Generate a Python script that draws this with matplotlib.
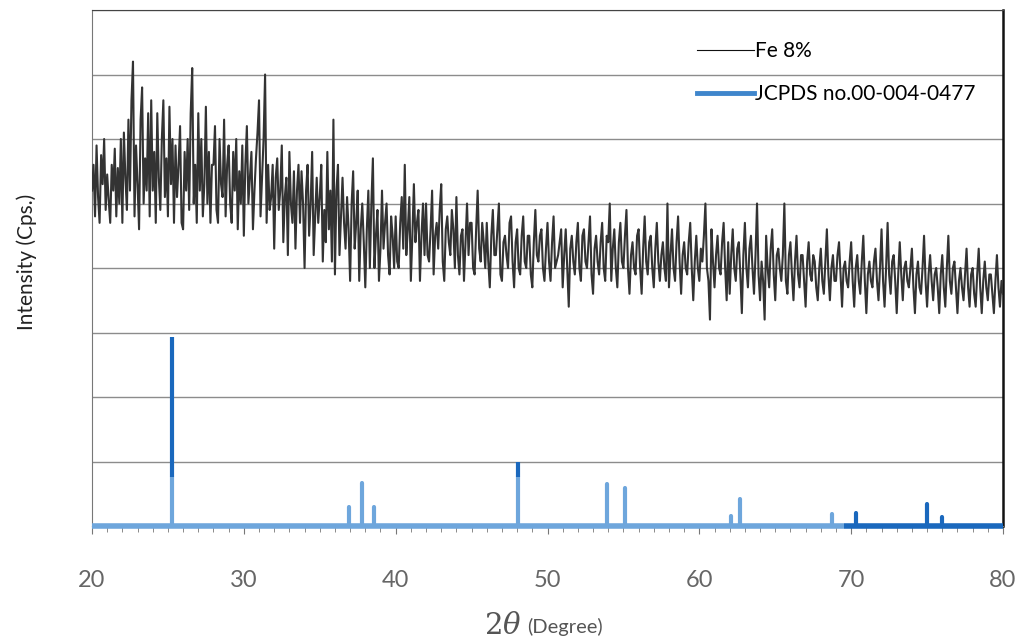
import numpy as np
import matplotlib
matplotlib.use('Agg')
import matplotlib.pyplot as plt
from matplotlib.lines import Line2D

# measured pattern, 2theta from 20 to 80 in 0.1 degree steps (intensity, arb. cps)
two_theta = np.arange(0, 601) * 0.1 + 20
intensity = [
    520, 560, 480, 590, 510, 470, 575, 530, 600, 490, 545, 505, 470, 560, 520, 585, 480, 555, 500, 600,
    470, 610, 540, 490, 630, 520, 660, 720, 480, 590, 530, 460, 630, 680, 500, 570, 520, 640, 480, 660,
    520, 580, 470, 640, 540, 490, 600, 660, 510, 570, 480, 650, 530, 600, 470, 590, 510, 560, 620, 470,
    460, 580, 520, 600, 490, 640, 710, 500, 560, 470, 640, 520, 600, 480, 530, 650, 500, 580, 470, 560,
    560, 620, 490, 470, 600, 530, 510, 630, 480, 560, 590, 500, 470, 580, 520, 600, 460, 550, 500, 590,
    450, 560, 620, 500, 540, 580, 460, 520, 570, 610, 660, 480, 540, 600, 700, 470, 560, 490, 510, 560,
    430, 540, 570, 490, 520, 590, 440, 510, 540, 420, 580, 500, 470, 550, 430, 520, 560, 470, 550, 500,
    400, 520, 560, 450, 500, 580, 420, 480, 540, 470, 510, 560, 410, 490, 440, 580, 460, 520, 410, 630,
    390, 520, 560, 420, 480, 540, 470, 430, 510, 460, 380, 500, 550, 430, 470, 520, 380, 460, 500, 440,
    370, 460, 520, 400, 500, 570, 400, 450, 490, 380, 430, 520, 430, 470, 500, 420, 390, 480, 450, 400,
    480, 410, 400, 470, 510, 430, 560, 420, 460, 510, 380, 450, 530, 440, 470, 490, 380, 450, 500, 420,
    500, 420, 410, 460, 520, 390, 450, 470, 430, 490, 530, 410, 380, 460, 480, 440, 420, 490, 460, 400,
    510, 420, 390, 450, 460, 380, 440, 500, 420, 470, 470, 400, 390, 460, 520, 430, 410, 470, 440, 400,
    470, 410, 370, 450, 490, 420, 420, 460, 500, 390, 380, 440, 450, 420, 400, 470, 480, 410, 370, 440,
    460, 400, 390, 450, 480, 410, 400, 450, 450, 390, 370, 440, 490, 420, 410, 450, 460, 400, 380, 430,
    470, 410, 380, 440, 480, 400, 410, 420, 440, 460, 370, 420, 460, 400, 340, 430, 450, 410, 390, 440,
    470, 400, 380, 450, 460, 410, 400, 440, 480, 390, 360, 430, 450, 410, 390, 440, 470, 400, 380, 450,
    440, 500, 380, 430, 460, 400, 370, 440, 470, 410, 400, 450, 490, 400, 360, 420, 440, 400, 390, 450,
    460, 400, 360, 430, 480, 410, 390, 440, 450, 400, 370, 430, 470, 410, 380, 420, 440, 400, 380, 500,
    370, 420, 460, 400, 380, 440, 480, 410, 360, 420, 440, 400, 390, 440, 470, 400, 350, 410, 450, 400,
    380, 430, 410, 450, 500, 400, 380, 320, 460, 410, 370, 420, 450, 400, 390, 440, 470, 400, 350, 440,
    360, 420, 460, 400, 380, 430, 440, 390, 330, 420, 470, 400, 370, 430, 450, 400, 360, 420, 500, 390,
    350, 410, 380, 320, 450, 400, 370, 430, 460, 390, 350, 420, 430, 400, 380, 420, 500, 380, 360, 420,
    440, 390, 350, 410, 450, 390, 370, 420, 420, 380, 340, 410, 440, 390, 380, 420, 410, 370, 350, 400,
    430, 380, 360, 410, 460, 390, 350, 400, 420, 380, 380, 420, 440, 390, 340, 400, 410, 380, 370, 410,
    440, 380, 340, 400, 420, 380, 360, 410, 450, 380, 330, 390, 410, 380, 370, 410, 430, 380, 350, 400,
    460, 380, 340, 400, 470, 390, 360, 410, 420, 380, 330, 390, 440, 390, 350, 400, 410, 380, 370, 400,
    430, 370, 330, 390, 410, 370, 360, 400, 450, 380, 340, 390, 420, 380, 350, 390, 400, 370, 330, 390,
    420, 370, 340, 400, 450, 380, 360, 400, 410, 370, 330, 380, 400, 370, 350, 390, 430, 370, 340, 390,
    400, 360, 340, 390, 430, 370, 330, 380, 410, 370, 350, 390, 390, 360, 330, 380, 420, 370, 340, 380,
    360,
]

# reference card peaks (anatase)
ref_pos = [25.3, 36.9, 37.8, 38.55, 48.05, 53.9, 55.1, 62.1, 62.7, 68.75, 70.3, 75.0, 76.0]
ref_int = [293, 29, 67, 29, 99, 65, 59, 16, 42, 19, 20, 34, 14]

light = '#6ea6dc'
dark = '#1a68bd'
split = 76      # scan shows darker blue above this level
dark_from = 69.5

plt.rcParams['font.family'] = ['Lato', 'DejaVu Sans']
plt.rcParams['mathtext.fontset'] = 'dejavuserif'

fig = plt.figure(figsize=(10.25, 6.44), dpi=100)
ax = fig.add_axes([92 / 1025, 1 - 526 / 644, 911 / 1025, 516 / 644])

ax.plot(two_theta, intensity, color='#333333', lw=1.5, zorder=3)

# baseline of the reference card
ax.plot([20, dark_from], [0, 0], color=light, lw=4, solid_capstyle='butt', clip_on=False, zorder=4)
ax.plot([dark_from, 80], [0, 0], color=dark, lw=4, solid_capstyle='butt', clip_on=False, zorder=4)

for p, h in zip(ref_pos, ref_int):
    if p > dark_from:
        ax.plot([p, p], [0, h], color=dark, lw=3, solid_capstyle='round', zorder=4)
    else:
        ax.plot([p, p], [0, min(h, split)], color=light, lw=3, solid_capstyle='round', zorder=4)
        if h > split:
            ax.plot([p, p], [split, h], color=dark, lw=3, solid_capstyle='butt', zorder=4)

ax.set_xlim(20, 80)
ax.set_ylim(0, 800)
ax.set_yticks(np.arange(0, 801, 100))
ax.set_yticklabels([])
ax.tick_params(axis='y', length=0)
ax.grid(axis='y', color='#8c8c8c', lw=1)
ax.set_axisbelow(True)

ax.set_xticks(np.arange(20, 81, 10))
ax.set_xticks(np.arange(20, 81, 1), minor=True)
ax.tick_params(axis='x', which='major', length=6, color='#777777', labelsize=17,
               labelcolor='#666666', pad=26)
ax.tick_params(axis='x', which='minor', length=4, color='#777777')

for s in ['left', 'bottom']:
    ax.spines[s].set_color('#777777')
ax.spines['top'].set_color('#444444')
ax.spines['right'].set_color('#111111')
ax.spines['right'].set_linewidth(1.8)

fig.text(27 / 1025, 1 - 262 / 644, 'Intensity (Cps.)', rotation=90, ha='center', va='center',
         fontsize=15, color='#222222')
fig.text(522 / 1025, 1 - 625 / 644, r'$2\theta$', ha='right', va='center', fontsize=21, color='#555555')
fig.text(527 / 1025, 1 - 627 / 644, '(Degree)', ha='left', va='center', fontsize=14.5, color='#555555')

handles = [Line2D([], [], color='#111111', lw=0.8),
           Line2D([], [], color='#3f86cc', lw=3.5)]
ax.legend(handles, ['Fe 8%', 'JCPDS no.00-004-0477'], loc='upper left',
          bbox_to_anchor=(597 / 911, 1 - 23 / 516), frameon=False, fontsize=15,
          handlelength=2.7, handletextpad=0.05, labelspacing=1.1, borderaxespad=0)

fig.savefig('out.png', dpi=100)
